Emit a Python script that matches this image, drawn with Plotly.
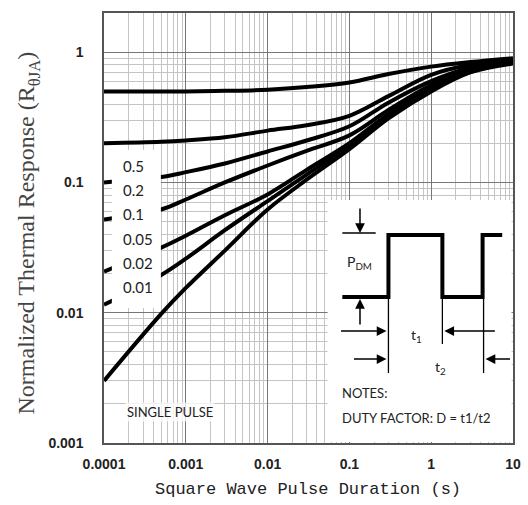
import plotly.graph_objects as go

# ---- data ----
durations = [1e-4, 5e-4, 1e-3, 3e-3, 1e-2, 3e-2, 0.1, 0.3, 1, 3, 10]
d_05 = [0.5, 0.5, 0.5, 0.505, 0.515, 0.54, 0.585, 0.68, 0.775, 0.84, 0.9]
d_02 = [0.2, 0.205, 0.21, 0.222, 0.25, 0.275, 0.325, 0.46, 0.67, 0.8, 0.88]
d_01 = [0.1, 0.11, 0.12, 0.14, 0.173, 0.21, 0.27, 0.41, 0.6, 0.76, 0.86]
d_005 = [0.052, 0.062, 0.074, 0.1, 0.135, 0.175, 0.23, 0.36, 0.56, 0.74, 0.85]
d_002 = [0.0207, 0.0316, 0.039, 0.056, 0.081, 0.125, 0.2, 0.335, 0.53, 0.72, 0.84]
d_001 = [0.0115, 0.0195, 0.026, 0.043, 0.072, 0.115, 0.19, 0.32, 0.52, 0.71, 0.83]
single = [0.003, 0.0098, 0.0155, 0.03, 0.062, 0.105, 0.18, 0.31, 0.5, 0.7, 0.82]

duty_labels = ["0.5", "0.2", "0.1", "0.05", "0.02", "0.01"]
x_tick_vals = [1e-4, 1e-3, 1e-2, 1e-1, 1, 10]
x_tick_text = ["0.0001", "0.001", "0.01", "0.1", "1", "10"]
y_tick_vals = [1e-3, 1e-2, 1e-1, 1]
y_tick_text = ["0.001", "0.01", "0.1", "1"]

# ---- layout geometry ----
W, H = 528, 505
L, R, T, B = 104, 7, 13, 62
PW, PH = W - L - R, H - T - B


def px(x):
    return (x - L) / PW


def py(y):
    return (H - B - y) / PH


fig = go.Figure()
for ys in [d_05, d_02, d_01, d_005, d_002, d_001, single]:
    fig.add_trace(go.Scatter(x=durations, y=ys, mode="lines",
                             line=dict(color="black", width=4, shape="spline", smoothing=1.0),
                             showlegend=False, hoverinfo="skip"))

minor_x = [m * 10 ** e for e in range(-4, 1) for m in range(2, 10)]
minor_y = [m * 10 ** e for e in range(-3, 1) for m in range(2, 10)]

tickfont = dict(family="Liberation Sans", size=14, color="#222", weight="bold")
fig.update_xaxes(type="log", range=[-4, 1], tickvals=x_tick_vals, ticktext=x_tick_text,
                 showgrid=True, gridcolor="#777", gridwidth=1,
                 minor=dict(tickvals=minor_x, showgrid=True, gridcolor="#c4c4c4", gridwidth=1),
                 showline=True, mirror=True, linecolor="#555", linewidth=1.5,
                 ticks="outside", ticklen=7, tickcolor="rgba(0,0,0,0)",
                 ticklabeloverflow="allow",
                 tickfont=tickfont, zeroline=False)
fig.update_yaxes(type="log", range=[-3, 0.301], tickvals=y_tick_vals, ticktext=y_tick_text,
                 showgrid=True, gridcolor="#777", gridwidth=1,
                 minor=dict(tickvals=minor_y, showgrid=True, gridcolor="#c4c4c4", gridwidth=1),
                 showline=True, mirror=True, linecolor="#555", linewidth=1.5,
                 ticks="outside", ticklen=16, tickcolor="rgba(0,0,0,0)",
                 tickfont=tickfont, zeroline=False)

shapes = []
# white box behind the duty-factor labels
shapes.append(dict(type="rect", xref="paper", yref="paper", layer="above",
                   x0=px(112), x1=px(162), y0=py(308), y1=py(150),
                   fillcolor="white", line=dict(width=0)))
# inset box
shapes.append(dict(type="rect", xref="paper", yref="paper", layer="above",
                   x0=px(332), x1=px(519.5), y0=py(442), y1=py(200),
                   fillcolor="white", line=dict(width=0)))
# waveform
wave = [(347, 297), (394, 297), (394, 235), (449, 235), (449, 297), (490, 297), (490, 235), (510, 235)]
path = "M " + " L ".join(f"{px(a)},{py(b)}" for a, b in wave)
shapes.append(dict(type="path", xref="paper", yref="paper", layer="above", path=path,
                   line=dict(color="black", width=4)))
# thin helper lines
for (x0, y0, x1, y1) in [(347, 233, 381, 233), (394, 299, 394, 373), (449, 299, 449, 344),
                         (491, 299, 491, 373)]:
    shapes.append(dict(type="line", xref="paper", yref="paper", layer="above",
                       x0=px(x0), y0=py(y0), x1=px(x1), y1=py(y1),
                       line=dict(color="black", width=1.3)))

annotations = []


def text_at(x, y, text, size, family="Lato", xanchor="center", color="#222", **kw):
    annotations.append(dict(xref="paper", yref="paper", x=px(x), y=py(y), text=text,
                            showarrow=False, xanchor=xanchor, yanchor="middle",
                            font=dict(family=family, size=size, color=color), **kw))


# duty labels
for i, lab in enumerate(duty_labels):
    text_at(121, 166 + i * 24.2, lab, 15, xanchor="left")
text_at(125, 412, "SINGLE PULSE", 13, xanchor="left", bgcolor="rgba(255,255,255,0.75)")
text_at(345, 393, "NOTES:", 13, xanchor="left")
text_at(345, 418, "DUTY FACTOR: D = t1/t2", 13, xanchor="left")
text_at(364, 262, "P<sub>DM</sub>", 14)
text_at(423, 335, "t<sub>1</sub>", 14)
text_at(447, 367, "t<sub>2</sub>", 14)
# arrows (tip, tail)
for (tx, ty, sx, sy) in [(365, 233, 365, 207), (365, 299, 365, 326),
                         (392, 331, 345, 331), (451, 331, 503, 331),
                         (392, 359, 358, 359), (493, 359, 519, 359)]:
    annotations.append(dict(xref="paper", yref="paper", x=px(tx), y=py(ty),
                            ax=sx - tx, ay=sy - ty, axref="pixel", ayref="pixel",
                            text="", showarrow=True, arrowhead=2, arrowsize=1.3,
                            arrowwidth=1.5, arrowcolor="black"))
# axis titles
text_at(312, 489, "Square Wave Pulse Duration (s)", 17, family="Liberation Mono")
text_at(27, 233, "Normalized Thermal Response (R<sub>θJA</sub>)", 24,
        family="Liberation Serif", color="#444", textangle=-90)

fig.update_layout(width=W, height=H, margin=dict(l=L, r=R, t=T, b=B),
                  paper_bgcolor="white", plot_bgcolor="white",
                  shapes=shapes, annotations=annotations, showlegend=False)
fig.write_html("out.html", config={"displayModeBar": False},
               post_script="document.body.style.margin='0';")
